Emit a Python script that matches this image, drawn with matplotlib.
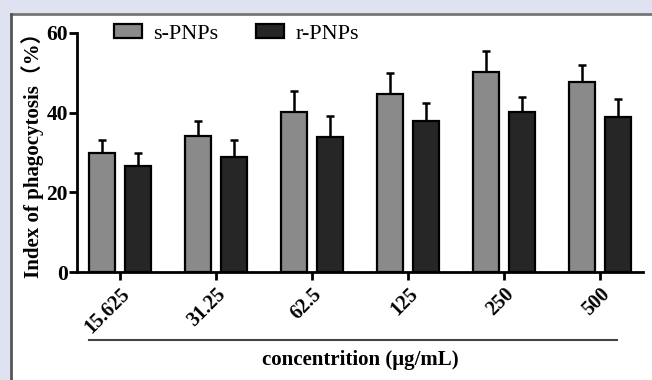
import numpy as np
import matplotlib.pyplot as plt
from matplotlib.patches import Rectangle
from matplotlib.lines import Line2D

# data
concentrations = ['15.625', '31.25', '62.5', '125', '250', '500']
s_pnps = [29.8, 34.2, 40.1, 44.7, 50.2, 47.7]
s_pnps_err = [3.3, 3.7, 5.4, 5.3, 5.3, 4.3]
r_pnps = [26.5, 28.9, 33.8, 37.9, 40.2, 39.0]
r_pnps_err = [3.5, 4.2, 5.4, 4.5, 3.8, 4.5]
yticks = [0, 20, 40, 60]

serif = ['Liberation Serif', 'Noto Sans CJK SC', 'DejaVu Serif']
plt.rcParams['font.family'] = serif

W, H = 652, 380
fig = plt.figure(figsize=(W / 100, H / 100), dpi=100, facecolor='#dfe2f0')

# white panel with grey top/left border, like the screenshot
fig.patches.append(Rectangle((11 / W, 0), 1, 1 - 14 / H, transform=fig.transFigure,
                             facecolor='white', edgecolor='none', zorder=-10))
fig.lines.append(Line2D([11 / W, 1], [1 - 13.5 / H] * 2, transform=fig.transFigure,
                        color='#777777', lw=2))
fig.lines.append(Line2D([10.5 / W] * 2, [0, 1 - 13.5 / H], transform=fig.transFigure,
                        color='#555555', lw=2))

ax = fig.add_axes([77 / W, 1 - 272 / H, (643 - 77) / W, (272 - 33) / H])
ax.set_facecolor('none')
ax.set_zorder(5)

x = np.arange(len(concentrations))
w = 0.27
off = 0.19
ax.bar(x - off, s_pnps, w, color='#8a8a8a', edgecolor='black', lw=1.6,
       label='s-PNPs', zorder=2)
ax.bar(x + off, r_pnps, w, color='#262626', edgecolor='black', lw=1.6,
       label='r-PNPs', zorder=2)
ax.errorbar(x - off, s_pnps, yerr=[np.zeros(6), s_pnps_err], fmt='none',
            ecolor='black', elinewidth=1.8, capsize=3.2, capthick=1.8, zorder=1)
ax.errorbar(x + off, r_pnps, yerr=[np.zeros(6), r_pnps_err], fmt='none',
            ecolor='black', elinewidth=1.8, capsize=3.2, capthick=1.8, zorder=1)

ax.set_xlim(-0.45, 5.45)
ax.set_ylim(0, 60)
ax.set_yticks(yticks)
ax.set_xticks(x)
ax.set_xticklabels(concentrations, rotation=45, ha='right', va='top',
                   rotation_mode='anchor', fontsize=14.5, fontweight='bold')
for lab in ax.get_yticklabels():
    lab.set_fontsize(15.5)
    lab.set_fontweight('bold')
for s in ['top', 'right']:
    ax.spines[s].set_visible(False)
for s in ['left', 'bottom']:
    ax.spines[s].set_linewidth(2)
ax.tick_params(axis='y', length=5.5, width=2, pad=1)
ax.tick_params(axis='x', length=6, width=2, pad=3)

ax.set_ylabel('Index of phagocytosis（%）', fontsize=15, fontweight='bold',
              family=serif)
ax.yaxis.set_label_coords(-0.058, 0.51)

leg = ax.legend(loc='center left', bbox_to_anchor=(114 / W, 1 - 34 / H),
                bbox_transform=fig.transFigure, ncol=2, frameon=False,
                fontsize=16, handlelength=1.26, handleheight=0.59,
                handletextpad=0.5, columnspacing=1.7, borderpad=0, borderaxespad=0)

# line under the tick labels and the axis title
fig.lines.append(Line2D([89 / W, 617 / W], [1 - 340 / H] * 2, transform=fig.transFigure,
                        color='#444444', lw=1.5))
fig.text(360 / W, 1 - 360 / H, 'concentrition (μg/mL)', ha='center', va='center',
         fontsize=15, fontweight='bold')

fig.savefig('out.png', dpi=100, facecolor=fig.get_facecolor())
